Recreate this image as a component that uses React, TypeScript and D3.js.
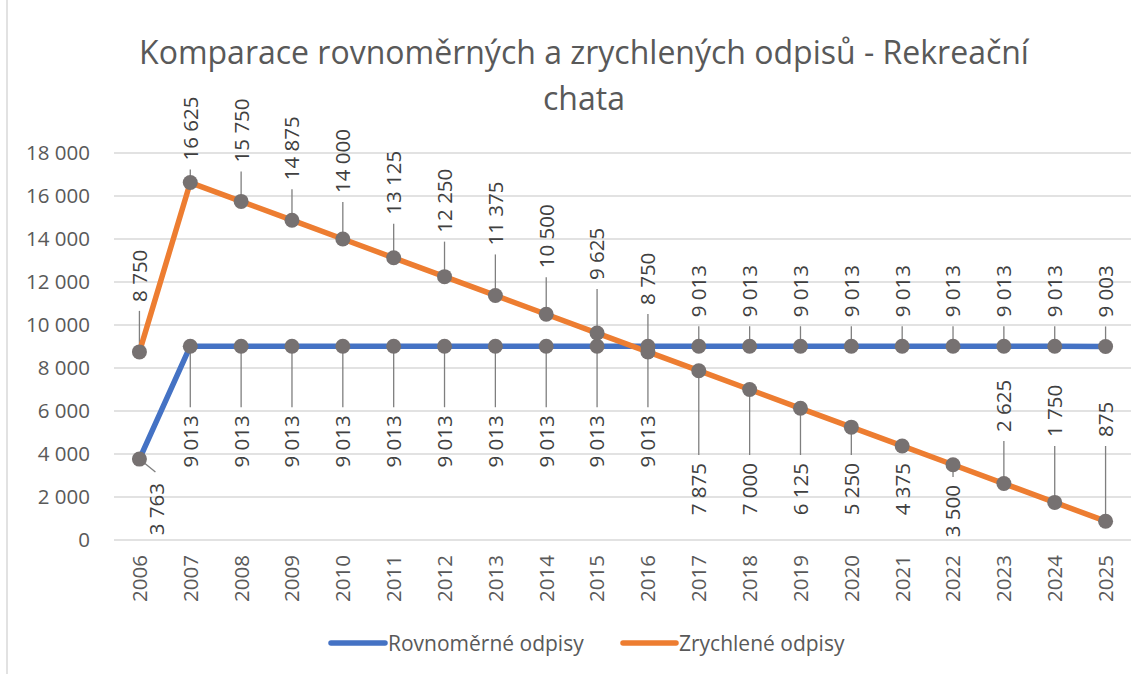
import React from 'react'
import * as d3 from 'd3'

const years = [
  '2006', '2007', '2008', '2009', '2010', '2011', '2012', '2013', '2014', '2015',
  '2016', '2017', '2018', '2019', '2020', '2021', '2022', '2023', '2024', '2025',
]

// Rovnoměrné odpisy
const straightValues = [
  3763, 9013, 9013, 9013, 9013, 9013, 9013, 9013, 9013, 9013,
  9013, 9013, 9013, 9013, 9013, 9013, 9013, 9013, 9013, 9003,
]

// Zrychlené odpisy
const acceleratedValues = [
  8750, 16625, 15750, 14875, 14000, 13125, 12250, 11375, 10500, 9625,
  8750, 7875, 7000, 6125, 5250, 4375, 3500, 2625, 1750, 875,
]

const yTicks = [0, 2000, 4000, 6000, 8000, 10000, 12000, 14000, 16000, 18000]

const seriesNames = ['Rovnoměrné odpisy', 'Zrychlené odpisy']
const titleLines = ['Komparace rovnoměrných a zrychlených odpisů - Rekreační', 'chata']

const width = 1147
const height = 674
const plot = { left: 114, right: 1131, top: 153, bottom: 540 }

const colors = {
  straight: '#4472C4',
  accelerated: '#ED7D31',
  marker: '#767171',
  leader: '#7F7F7F',
  grid: '#D9D9D9',
  tick: '#595959',
  label: '#404040',
  title: '#595959',
}

const font = '"Open Sans", "Noto Sans", sans-serif'

const fmt = d3.formatLocale({
  decimal: ',',
  thousands: ' ',
  grouping: [3],
  currency: ['', ''],
}).format(',d')

// label layout: distance (px) from the point centre to the nearest edge of the label text
const straightLabel = (i) => (i < 11 ? { side: 'below', gap: 69 } : { side: 'above', gap: 29 })
const acceleratedGaps = [50, 22, 39, 40, 46, 43, 44, 50, 46, 53, 47]

export default function App() {
  const x = d3
    .scalePoint()
    .domain(years)
    .range([plot.left, plot.right])
    .padding(0.5)

  const y = d3.scaleLinear().domain([0, 18000]).range([plot.bottom, plot.top])

  const line = d3
    .line()
    .x((d) => x(d.year))
    .y((d) => y(d.value))

  const straight = years.map((year, i) => ({ year, value: straightValues[i] }))
  const accelerated = years.map((year, i) => ({ year, value: acceleratedValues[i] }))

  const acceleratedLabel = (i, py) => {
    if (i < acceleratedGaps.length) return { side: 'above', gap: acceleratedGaps[i] }
    if (i < 16) return { side: 'below', gap: 463 - py }
    if (i === 16) return { side: 'below', gap: 485 - py }
    if (i === 17) return { side: 'above', gap: py - 432 }
    return { side: 'above', gap: py - 437 }
  }

  const labels = []
  straight.forEach((d, i) => {
    const px = x(d.year)
    const py = y(d.value)
    if (i === 0) {
      labels.push({ key: 's0', px, py, tx: px + 17, edge: py + 24, side: 'below', text: fmt(d.value), leader: [px + 16, py + 13] })
      return
    }
    const l = straightLabel(i)
    labels.push({ key: 's' + i, px, py, tx: px, side: l.side, gap: l.gap, text: fmt(d.value) })
  })
  accelerated.forEach((d, i) => {
    const px = x(d.year)
    const py = y(d.value)
    const l = acceleratedLabel(i, py)
    labels.push({ key: 'a' + i, px, py, tx: px, side: l.side, gap: l.gap, text: fmt(d.value) })
  })

  labels.forEach((l) => {
    if (l.edge != null) return
    l.edge = l.side === 'above' ? l.py - l.gap : l.py + l.gap
    if (l.gap > 20) {
      l.leader = [l.px, l.side === 'above' ? l.edge + 9 : l.edge - 8]
    }
  })

  const legend = [
    { name: seriesNames[0], color: colors.straight, x1: 331, x2: 385 },
    { name: seriesNames[1], color: colors.accelerated, x1: 623, x2: 676 },
  ]

  return (
    <div>
      <style>{'body{margin:0}'}</style>
      <svg width={width} height={height} style={{ display: 'block', background: '#fff' }}>
        <line x1={7} x2={7} y1={0} y2={height} stroke={colors.grid} strokeWidth={1.5} />

        {titleLines.map((t, i) => (
          <text
            key={t}
            x={584}
            y={64 + i * 46}
            textAnchor="middle"
            style={{ fontFamily: font, fontSize: '32px', fill: colors.title }}
          >
            {t}
          </text>
        ))}

        {yTicks.map((t) => (
          <g key={'tick-' + t}>
            <line
              x1={plot.left}
              x2={plot.right}
              y1={y(t)}
              y2={y(t)}
              stroke={colors.grid}
              strokeWidth={1.3}
            />
            <text
              x={90}
              y={y(t)}
              dy="0.36em"
              textAnchor="end"
              style={{ fontFamily: font, fontSize: '20.5px', fill: colors.tick }}
            >
              {fmt(t)}
            </text>
          </g>
        ))}

        {years.map((yr) => (
          <text
            key={'yr-' + yr}
            transform={`translate(${x(yr)},${555}) rotate(-90)`}
            dy="0.36em"
            textAnchor="end"
            style={{ fontFamily: font, fontSize: '20.5px', fill: colors.tick }}
          >
            {yr}
          </text>
        ))}

        {labels
          .filter((l) => l.leader)
          .map((l) => (
            <line
              key={'leader-' + l.key}
              x1={l.px}
              y1={l.py}
              x2={l.leader[0]}
              y2={l.leader[1]}
              stroke={colors.leader}
              strokeWidth={1.3}
            />
          ))}

        <path d={line(straight)} fill="none" stroke={colors.straight} strokeWidth={5.5} strokeLinejoin="round" />
        <path d={line(accelerated)} fill="none" stroke={colors.accelerated} strokeWidth={5.5} strokeLinejoin="round" />

        {[...straight, ...accelerated].map((d, i) => (
          <circle key={'pt-' + i} cx={x(d.year)} cy={y(d.value)} r={7.5} fill={colors.marker} />
        ))}

        {labels.map((l) => (
          <text
            key={'lbl-' + l.key}
            transform={`translate(${l.tx},${l.edge}) rotate(-90)`}
            dy="0.36em"
            textAnchor={l.side === 'above' ? 'start' : 'end'}
            style={{ fontFamily: font, fontSize: '20.5px', fill: colors.label }}
          >
            {l.text}
          </text>
        ))}

        {legend.map((g) => (
          <g key={g.name}>
            <line x1={g.x1} x2={g.x2} y1={643} y2={643} stroke={g.color} strokeWidth={5.5} strokeLinecap="round" />
            <text
              x={g.x2 + 3}
              y={643}
              dy="0.36em"
              style={{ fontFamily: font, fontSize: '21px', fill: colors.tick }}
            >
              {g.name}
            </text>
          </g>
        ))}
      </svg>
    </div>
  )
}
